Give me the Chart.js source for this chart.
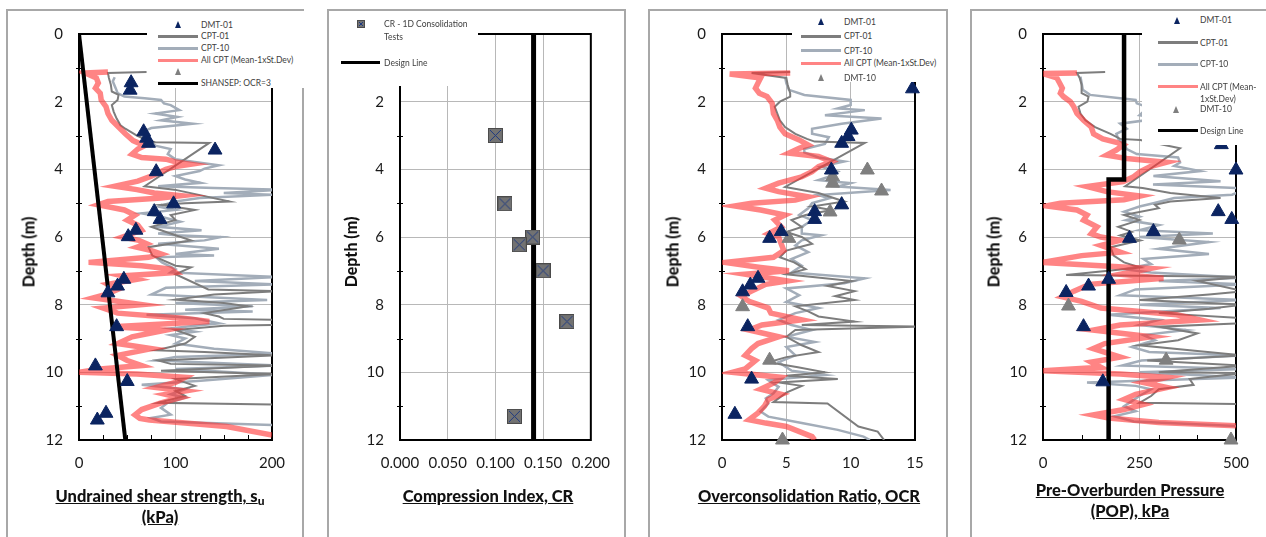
<!DOCTYPE html>
<html>
<head>
<meta charset="utf-8">
<script src="https://cdn.jsdelivr.net/npm/chart.js@4.4.1/dist/chart.umd.min.js"></script>
<style>
    html, body { margin: 0; padding: 0; background: #fff; }
    body { width: 1266px; height: 537px; position: relative; overflow: hidden; font-family: Lato, 'Open Sans', sans-serif; }
    .box { position: absolute; top: 9px; height: 560px; border: 2px solid #a8a8a8; box-sizing: border-box; background: #fff; }
    canvas.plot { position: absolute; top: 0; z-index: 1; }
    .legend { position: absolute; background: #fff; z-index: 3; }
    .lg-text { position: absolute; font-size: 8.5px; color: #404040; white-space: nowrap; transform: translateY(-50%); line-height: 1; z-index: 4; }
    .lg-line { position: absolute; z-index: 4; }
    .lg-tri { position: absolute; width: 0; height: 0; border-left: 3.5px solid transparent; border-right: 3.5px solid transparent; z-index: 4; }
    .ytitle { position: absolute; font-weight: 900; font-size: 16px; color: #111; transform: translate(-50%, -50%) rotate(-90deg); white-space: nowrap; z-index: 3; }
    .xtitle { position: absolute; font-weight: 900; font-size: 16.5px; color: #111; text-decoration: underline; text-align: center; transform: translateX(-50%); line-height: 21px; white-space: nowrap; z-index: 3; }
    .xtitle sub { font-size: 12px; vertical-align: -3px; line-height: 0; }
</style>
</head>
<body>
<script>
// ---------- Panel 1: undrained shear strength su (kPa) ----------
const suDmt01Depth = [1.44, 1.66, 2.89, 3.08, 3.23, 3.43, 4.07, 5.02, 5.25, 5.48, 5.8, 5.99, 7.25, 7.45, 7.65, 8.65, 9.81, 10.27, 11.21, 11.41];
const suDmt01 = [54, 53, 67, 70, 72, 141, 80, 98, 78, 84, 59, 51, 46.5, 40, 30, 39, 17, 50, 28, 19];

const suCpt01Depth = [1.12, 1.15, 1.3, 1.5, 1.7, 1.8, 1.95, 2.1, 2.3, 2.5, 2.7, 2.8, 3.0, 3.1, 3.2, 3.22, 4.5, 4.6, 4.95, 5.0, 5.05, 5.2, 5.35, 5.5, 5.7, 5.8, 5.95, 6.1, 6.3, 6.55, 6.85, 6.9, 7.1, 7.55, 7.6, 7.7, 7.85, 7.95, 8.05, 8.25, 8.35, 8.42, 8.45, 8.6, 8.62, 8.75, 8.95, 9.15, 9.35, 9.4, 9.5, 9.65, 9.75, 9.8, 9.95, 10.05, 10.2, 10.4, 10.55, 10.7, 10.9, 10.95];
const suCpt01 = [70, 30, 31, 33, 34, 41, 40, 34, 36, 39, 43, 48, 60, 67, 79, 135, 68, 99, 156, 110, 85, 120, 95, 100, 75, 85, 100, 116, 72, 76, 100, 116, 100, 134, 205, 140, 100, 150, 175, 130, 145, 150, 205, 205, 150, 100, 120, 110, 80, 130, 205, 82, 95, 205, 85, 205, 100, 120, 100, 110, 82, 205];

const suCpt10Depth = [1.28, 1.4, 1.6, 1.75, 1.85, 1.9, 1.95, 2.05, 2.1, 2.25, 2.35, 2.45, 2.55, 2.65, 2.78, 2.9, 3.0, 3.15, 3.3, 3.4, 3.55, 3.7, 3.78, 3.88, 3.98, 4.05, 4.2, 4.3, 4.4, 4.5, 4.55, 4.6, 4.7, 4.75, 4.85, 4.95, 5.1, 5.2, 5.3, 5.4, 5.55, 5.7, 5.8, 5.9, 5.95, 6.0, 6.1, 6.2, 6.35, 6.5, 6.55, 6.6, 6.75, 6.95, 7.05, 7.18, 7.3, 7.4, 7.5, 7.7, 7.86, 7.95, 8.05, 8.15, 8.2, 8.3, 8.4, 8.55, 8.7, 8.8, 8.9, 9.0, 9.15, 9.3, 9.45, 9.55, 9.65, 9.8, 9.9, 10.07, 10.25, 10.37, 10.5, 10.65, 10.75, 10.9, 11.05, 11.25, 11.35, 11.45, 11.56];
const suCpt10 = [37, 35, 38, 40, 47, 68, 85, 88, 95, 104, 79, 102, 85, 118, 75, 65, 68, 75, 79, 95, 92, 100, 120, 145, 130, 125, 100, 110, 126, 82, 140, 210, 150, 200, 125, 100, 82, 100, 65, 85, 105, 82, 127, 82, 100, 147, 130, 82, 145, 100, 140, 80, 86, 100, 95, 205, 120, 205, 90, 75, 195, 100, 180, 110, 180, 70, 120, 145, 95, 120, 95, 110, 100, 140, 205, 100, 80, 205, 100, 205, 126, 65, 110, 95, 110, 92, 85, 95, 75, 85, 205];

const suAllCptDepth = [1.12, 1.15, 1.2, 1.3, 1.45, 1.6, 1.75, 1.95, 2.15, 2.35, 2.55, 2.75, 2.95, 3.15, 3.3, 3.4, 3.55, 3.65, 3.7, 3.78, 3.85, 3.92, 4.0, 4.2, 4.35, 4.5, 4.6, 4.7, 4.78, 4.85, 4.95, 5.05, 5.2, 5.35, 5.5, 5.65, 5.8, 6.0, 6.1, 6.2, 6.3, 6.4, 6.5, 6.6, 6.75, 6.85, 6.95, 7.05, 7.15, 7.25, 7.4, 7.55, 7.7, 7.8, 7.9, 8.0, 8.1, 8.25, 8.4, 8.5, 8.65, 8.75, 8.95, 9.15, 9.3, 9.5, 9.65, 9.8, 9.9, 10.0, 10.05, 10.15, 10.3, 10.45, 10.55, 10.65, 10.75, 10.9, 11.1, 11.26, 11.36, 11.41, 11.6, 11.85];
const suAllCpt = [30, 6, 10, 18, 20, 17, 22, 23, 28, 30, 34, 41, 48, 56, 68, 61, 55, 65, 90, 100, 116, 100, 90, 75, 61, 37, 60, 78, 106, 85, 30, 20, 47, 58, 50, 61, 65, 45, 62, 70, 60, 75, 85, 72, 10, 65, 95, 100, 45, 60, 30, 40, 28, 15, 40, 65, 25, 40, 108, 135, 35, 90, 55, 40, 75, 40, 50, 65, 22, 0, 60, 110, 100, 80, 110, 90, 105, 85, 65, 58, 63, 73, 153, 200];

const suShansepDepth = [0, 12];
const suShansep = [0, 48];

// ---------- Panel 2: compression index CR ----------
const crTestDepth = [3.0, 5.02, 6.0, 6.23, 7.0, 8.5, 11.3];
const crTest = [0.100, 0.110, 0.139, 0.125, 0.150, 0.175, 0.120];
const crDesignDepth = [0, 12];
const crDesign = [0.14, 0.14];

// ---------- Panel 3: overconsolidation ratio OCR ----------
const ocrDmt01Depth = [1.62, 2.84, 3.03, 3.23, 4.02, 5.05, 5.25, 5.48, 5.84, 6.04, 7.22, 7.42, 7.62, 8.65, 10.2, 11.24];
const ocrDmt01 = [14.8, 10.05, 9.8, 9.3, 8.5, 9.3, 7.2, 7.2, 4.6, 3.7, 2.8, 2.2, 1.6, 2.0, 2.3, 1.0];
const ocrDmt10Depth = [4.02, 4.22, 4.41, 4.64, 5.04, 5.26, 6.04, 8.06, 9.64, 12.0];
const ocrDmt10 = [11.3, 8.6, 8.6, 12.4, 9.3, 8.4, 5.2, 1.6, 3.7, 4.7];

const ocrCpt01Depth = [1.12, 1.15, 1.3, 1.5, 1.75, 1.85, 2.0, 2.15, 2.35, 2.55, 2.75, 2.95, 3.1, 3.18, 3.22, 4.52, 4.7, 4.95, 5.1, 5.2, 5.35, 5.5, 5.7, 5.85, 6.0, 6.2, 6.4, 6.6, 6.75, 6.95, 7.1, 7.3, 7.45, 7.6, 7.75, 7.86, 8.05, 8.2, 8.35, 8.5, 8.6, 8.65, 8.75, 8.95, 9.2, 9.4, 9.55, 9.7, 9.85, 10.0, 10.1, 10.2, 10.3, 10.4, 10.6, 10.88, 10.92, 11.6, 11.75, 12.0];
const ocrCpt01 = [5.3, 2.3, 5.0, 5.1, 5.3, 5.3, 4.5, 4.1, 4.3, 4.5, 4.9, 5.7, 6.6, 7.2, 11.1, 4.9, 7.5, 9.5, 7.0, 8.5, 6.5, 5.4, 6.2, 5.0, 6.2, 7.0, 5.0, 4.5, 5.6, 6.5, 5.0, 10.1, 8.2, 10.3, 8.8, 10.3, 5.7, 6.7, 7.5, 10.3, 6.2, 15.2, 5.7, 5.0, 6.2, 7.5, 5.0, 3.6, 5.9, 8.0, 5.0, 9.0, 4.4, 6.2, 5.0, 4.0, 8.2, 10.6, 12.1, 12.6];

const ocrCpt10Depth = [1.26, 1.45, 1.65, 1.8, 1.95, 2.1, 2.2, 2.25, 2.4, 2.5, 2.65, 2.8, 2.95, 3.05, 3.25, 3.4, 3.5, 3.65, 3.77, 3.92, 4.07, 4.22, 4.32, 4.41, 4.51, 4.61, 4.76, 4.86, 5.0, 5.15, 5.35, 5.5, 5.7, 5.9, 5.95, 6.1, 6.25, 6.45, 6.65, 6.85, 7.05, 7.22, 7.37, 7.52, 7.72, 7.92, 8.1, 8.25, 8.45, 8.6, 8.75, 8.95, 9.1, 9.25, 9.5, 9.7, 9.95, 10.08, 10.23, 10.43, 10.62, 10.77, 10.92, 11.16, 11.31, 11.5, 11.7, 11.9, 12.0];
const ocrCpt10 = [4.9, 5.0, 5.2, 6.4, 10.0, 10.0, 9.0, 11.1, 8.0, 12.4, 9.3, 7.0, 7.0, 8.3, 8.0, 6.4, 6.4, 7.5, 9.5, 7.7, 9.0, 8.3, 7.5, 10.0, 9.0, 13.1, 7.5, 8.3, 7.0, 6.7, 6.0, 7.0, 6.2, 6.2, 7.7, 6.2, 5.7, 6.7, 5.4, 6.2, 5.4, 11.1, 9.5, 5.0, 6.0, 5.0, 7.5, 5.7, 4.4, 5.4, 7.0, 5.0, 7.2, 5.0, 5.7, 4.4, 5.4, 8.0, 3.6, 4.4, 4.0, 3.4, 3.6, 3.0, 3.6, 6.2, 9.0, 11.0, 11.5];

const ocrAllCptDepth = [1.15, 1.18, 1.3, 1.45, 1.6, 1.75, 1.85, 2.05, 2.35, 2.55, 2.75, 2.95, 3.13, 3.28, 3.38, 3.52, 3.62, 3.77, 3.92, 4.07, 4.22, 4.41, 4.56, 4.66, 4.81, 4.91, 5.0, 5.08, 5.2, 5.35, 5.5, 5.7, 5.9, 6.0, 6.2, 6.4, 6.6, 6.75, 6.9, 7.0, 7.1, 7.3, 7.4, 7.6, 7.75, 7.9, 8.1, 8.25, 8.45, 8.6, 8.75, 8.95, 9.15, 9.3, 9.5, 9.65, 9.9, 10.0, 10.15, 10.3, 10.5, 10.65, 10.8, 11.0, 11.2, 11.4, 11.5, 11.6, 11.9, 12.0];
const ocrAllCpt = [5.3, 0.6, 3.0, 2.8, 2.6, 2.9, 3.5, 3.9, 4.0, 4.3, 4.5, 4.9, 6.0, 6.7, 6.0, 5.2, 7.5, 8.5, 7.5, 7.0, 6.2, 4.4, 3.4, 4.4, 6.7, 5.7, 2.3, 1.0, 3.0, 4.9, 4.1, 4.6, 3.6, 4.4, 4.6, 4.8, 4.0, 0.2, 3.0, 5.2, 1.8, 5.1, 3.4, 2.3, 1.5, 2.1, 3.6, 3.8, 6.2, 3.1, 2.1, 4.4, 2.8, 2.3, 1.8, 2.6, 1.8, 0.8, 4.6, 4.1, 3.0, 4.6, 3.6, 3.3, 2.8, 2.1, 3.4, 5.0, 7.0, 7.2];

// ---------- Panel 4: pre-overburden pressure POP (kPa) ----------
const popDmt01Depth = [3.27, 4.02, 5.25, 5.48, 5.84, 6.04, 7.25, 7.45, 7.64, 8.65, 10.28];
const popDmt01 = [462, 500, 454, 489, 286, 224, 170, 118, 60, 105, 155];
const popDmt10Depth = [6.09, 8.04, 9.64, 12.0];
const popDmt10 = [353, 66, 319, 487];

const popCpt01Depth = [1.12, 1.15, 1.3, 1.5, 1.75, 1.85, 2.0, 2.15, 2.35, 2.55, 2.75, 2.95, 3.1, 3.13, 3.38, 4.5, 4.55, 4.7, 4.85, 4.95, 5.05, 5.15, 5.35, 5.5, 5.7, 5.85, 5.95, 6.1, 6.3, 6.55, 6.75, 6.9, 7.12, 7.18, 7.3, 7.6, 7.7, 7.86, 8.0, 8.12, 8.25, 8.4, 8.55, 8.65, 8.85, 9.05, 9.2, 9.35, 9.5, 9.65, 9.8, 10.0, 10.02, 10.2, 10.37, 10.5, 10.7, 10.9, 10.94];
const popCpt01 = [161, 88, 95, 100, 100, 118, 115, 92, 97, 110, 135, 175, 200, 252, 355, 213, 258, 330, 460, 330, 290, 300, 210, 250, 195, 230, 200, 252, 175, 183, 210, 252, 60, 520, 400, 520, 430, 250, 520, 430, 300, 520, 520, 300, 400, 350, 250, 380, 520, 270, 520, 300, 520, 380, 390, 300, 280, 250, 520];

const popCpt10Depth = [1.26, 1.45, 1.65, 1.8, 1.95, 2.05, 2.2, 2.3, 2.4, 2.5, 2.65, 2.8, 2.95, 3.1, 3.25, 3.4, 3.55, 3.65, 3.8, 3.9, 4.05, 4.2, 4.35, 4.45, 4.55, 4.6, 4.75, 4.85, 5.0, 5.1, 5.25, 5.4, 5.5, 5.65, 5.8, 5.9, 6.0, 6.15, 6.35, 6.5, 6.65, 6.8, 6.95, 7.05, 7.2, 7.3, 7.4, 7.55, 7.72, 7.86, 8.0, 8.1, 8.3, 8.45, 8.6, 8.75, 8.9, 9.05, 9.25, 9.4, 9.5, 9.65, 9.8, 9.9, 10.0, 10.15, 10.3, 10.4, 10.5, 10.7, 10.85, 11.0, 11.15, 11.3, 11.45, 11.6];
const popCpt10 = [97, 100, 103, 122, 240, 243, 280, 260, 250, 300, 200, 217, 190, 195, 210, 217, 243, 350, 355, 340, 407, 286, 460, 285, 500, 520, 490, 340, 286, 250, 210, 250, 216, 300, 250, 440, 250, 430, 300, 430, 260, 280, 210, 280, 520, 300, 520, 240, 200, 520, 250, 460, 170, 300, 250, 370, 260, 290, 230, 275, 520, 255, 205, 520, 250, 520, 114, 240, 280, 250, 230, 210, 240, 185, 235, 520];

const popAllCptDepth = [1.15, 1.17, 1.3, 1.45, 1.6, 1.75, 1.85, 2.0, 2.15, 2.35, 2.55, 2.75, 2.95, 3.1, 3.2, 3.28, 3.43, 3.58, 3.68, 3.79, 3.92, 4.07, 4.22, 4.36, 4.51, 4.66, 4.79, 4.9, 5.0, 5.08, 5.2, 5.35, 5.5, 5.7, 5.9, 6.0, 6.1, 6.25, 6.45, 6.55, 6.75, 6.85, 6.93, 7.1, 7.22, 7.4, 7.6, 7.77, 7.9, 8.1, 8.3, 8.45, 8.6, 8.75, 8.95, 9.15, 9.3, 9.55, 9.7, 9.85, 9.95, 10.05, 10.15, 10.3, 10.45, 10.65, 10.8, 10.95, 11.1, 11.26, 11.35, 11.48, 11.58];
const popAllCpt = [88, 0, 36, 43, 50, 45, 53, 71, 80, 88, 105, 125, 131, 155, 190, 208, 190, 165, 217, 320, 278, 252, 235, 208, 114, 165, 252, 210, 45, 10, 88, 114, 105, 140, 125, 150, 200, 150, 200, 100, 0, 150, 277, 200, 312, 120, 80, 50, 100, 150, 346, 407, 200, 130, 280, 160, 130, 200, 125, 150, 0, 200, 321, 260, 321, 240, 210, 260, 210, 130, 170, 300, 500];

const popDesignDepth = [0, 4.3, 4.3, 12];
const popDesign = [210, 210, 170, 170];

// ---------- styling ----------
Chart.defaults.font.family = "Lato, 'Open Sans', sans-serif";
Chart.defaults.color = '#1a1a1a';

const NAVY = '#0b2461';
const GRAY_MARK = '#7f7f7f';
const CPT01_COLOR = '#7d7d7d';
const CPT10_COLOR = '#a3adb9';
const ALLCPT_COLOR = 'rgba(255, 50, 50, 0.6)';
const GRID_COLOR = '#b8b8b8';

function pts(xs, ys) {
    return xs.map((v, i) => ({ x: v, y: ys[i] }));
}

function trace(label, xs, ys, color, width, order) {
    return {
        label: label,
        data: pts(xs, ys),
        showLine: true,
        borderColor: color,
        backgroundColor: color,
        borderWidth: width,
        pointRadius: 0,
        pointHoverRadius: 0,
        tension: 0,
        fill: false,
        order: order
    };
}

function markers(label, xs, ys, color, style, radius, order) {
    return {
        label: label,
        data: pts(xs, ys),
        showLine: false,
        pointStyle: style,
        pointRadius: radius,
        pointBackgroundColor: color,
        pointBorderColor: color,
        pointBorderWidth: 1,
        clip: false,
        order: order
    };
}

// grey square with a navy cross, used for the consolidation tests
function crossBox(size) {
    const c = document.createElement('canvas');
    c.width = size;
    c.height = size;
    const g = c.getContext('2d');
    g.fillStyle = '#727272';
    g.fillRect(0, 0, size, size);
    g.strokeStyle = '#4a4a4a';
    g.lineWidth = 1;
    g.strokeRect(0.5, 0.5, size - 1, size - 1);
    g.strokeStyle = '#1f3a80';
    g.beginPath();
    g.moveTo(2, 2); g.lineTo(size - 2, size - 2);
    g.moveTo(size - 2, 2); g.lineTo(2, size - 2);
    g.stroke();
    return c;
}

// plot frame plus the little minor tick marks
const framePlugin = {
    id: 'frame',
    beforeDatasetsDraw(chart, args, opts) {
        const { ctx, chartArea: a, scales } = chart;
        ctx.save();
        ctx.strokeStyle = '#000';
        ctx.lineWidth = 2;
        ctx.strokeRect(a.left, a.top, a.right - a.left, a.bottom - a.top);
        ctx.lineWidth = 1;
        [1, 3, 5, 7, 9, 11].forEach(d => {
            const y = Math.round(scales.y.getPixelForValue(d)) + 0.5;
            ctx.beginPath();
            ctx.moveTo(a.left - 3, y);
            ctx.lineTo(a.left + 3, y);
            ctx.stroke();
        });
        (opts.minorX || []).forEach(v => {
            const x = Math.round(scales.x.getPixelForValue(v)) + 0.5;
            ctx.beginPath();
            ctx.moveTo(x, a.bottom);
            ctx.lineTo(x, a.bottom - 5);
            ctx.stroke();
        });
        ctx.restore();
    }
};

function makePanel(p) {
    const box = document.createElement('div');
    box.className = 'box';
    box.style.left = p.boxL + 'px';
    box.style.width = (p.boxR - p.boxL) + 'px';
    document.body.appendChild(box);

    const canvasL = p.boxL + 2;
    const canvasR = Math.min(p.boxR - 2, 1266);
    const canvas = document.createElement('canvas');
    canvas.className = 'plot';
    canvas.width = canvasR - canvasL;
    canvas.height = 537;
    canvas.style.left = canvasL + 'px';
    canvas.style.width = (canvasR - canvasL) + 'px';
    canvas.style.height = '537px';
    document.body.appendChild(canvas);

    const eq = (a, b) => Math.abs(a - b) < 1e-9;
    const gridFor = (min, max) => ctx =>
        (ctx.tick && (eq(ctx.tick.value, min) || eq(ctx.tick.value, max))) ? 'rgba(0,0,0,0)' : GRID_COLOR;

    new Chart(canvas.getContext('2d'), {
        type: 'scatter',
        data: { datasets: p.datasets },
        options: {
            responsive: false,
            animation: false,
            events: [],
            layout: { padding: { left: 0, right: canvasR - p.plotR, top: 34, bottom: 57 } },
            plugins: {
                legend: { display: false },
                tooltip: { enabled: false },
                frame: { minorX: p.minorX }
            },
            scales: {
                x: {
                    type: 'linear',
                    min: p.xMin,
                    max: p.xMax,
                    afterFit: s => { s.height = 40; },
                    ticks: {
                        stepSize: p.xStep,
                        autoSkip: false,
                        maxRotation: 0,
                        padding: 14,
                        font: { size: 15 },
                        callback: p.xFormat || (v => v)
                    },
                    grid: { color: gridFor(p.xMin, p.xMax), drawTicks: false, lineWidth: 1 },
                    border: { display: false }
                },
                y: {
                    type: 'linear',
                    reverse: true,
                    min: 0,
                    max: 12,
                    afterFit: s => { s.width = p.plotL - canvasL; },
                    ticks: { stepSize: 2, padding: 16, font: { size: 15 } },
                    grid: { color: gridFor(0, 12), drawTicks: false, lineWidth: 1 },
                    border: { display: false }
                }
            }
        },
        plugins: [framePlugin]
    });

    const yt = document.createElement('div');
    yt.className = 'ytitle';
    yt.textContent = 'Depth (m)';
    yt.style.left = p.yTitleX + 'px';
    yt.style.top = '252px';
    document.body.appendChild(yt);

    const xt = document.createElement('div');
    xt.className = 'xtitle';
    xt.innerHTML = p.xTitle;
    xt.style.left = p.xTitleX + 'px';
    xt.style.top = p.xTitleTop + 'px';
    document.body.appendChild(xt);

    // legend sits over the plot with a white background, as in the source
    const lg = document.createElement('div');
    lg.className = 'legend';
    lg.style.left = p.legend.left + 'px';
    lg.style.top = '11px';
    lg.style.width = (p.legend.right - p.legend.left) + 'px';
    lg.style.height = (p.legend.bottom - 11) + 'px';
    document.body.appendChild(lg);

    p.legend.items.forEach(it => {
        if (it.kind === 'line') {
            const l = document.createElement('div');
            l.className = 'lg-line';
            l.style.left = it.x0 + 'px';
            l.style.width = (it.x1 - it.x0) + 'px';
            l.style.top = (it.y - it.w / 2) + 'px';
            l.style.height = it.w + 'px';
            l.style.background = it.color;
            document.body.appendChild(l);
        } else if (it.kind === 'tri') {
            const t = document.createElement('div');
            t.className = 'lg-tri';
            t.style.left = (it.x - 3.5) + 'px';
            t.style.top = (it.y - 3.5) + 'px';
            t.style.borderBottom = '7px solid ' + it.color;
            document.body.appendChild(t);
        } else if (it.kind === 'box') {
            const b = crossBox(8);
            b.style.position = 'absolute';
            b.style.left = (it.x - 4) + 'px';
            b.style.top = (it.y - 4) + 'px';
            b.style.zIndex = 4;
            document.body.appendChild(b);
        }
        (it.text || []).forEach((line, i) => {
            const tx = document.createElement('div');
            tx.className = 'lg-text';
            tx.textContent = line;
            tx.style.left = it.tx + 'px';
            tx.style.top = (it.y + i * 12.5) + 'px';
            document.body.appendChild(tx);
        });
    });
}

// Panel 1 - su
makePanel({
    boxL: 6, boxR: 304, plotL: 79, plotR: 272,
    xMin: 0, xMax: 200, xStep: 100, minorX: [25, 50, 75, 125, 150, 175],
    yTitleX: 28, xTitleX: 160, xTitleTop: 486,
    xTitle: 'Undrained shear strength, s<sub>u</sub><br>(kPa)',
    datasets: [
        markers('DMT-01', suDmt01, suDmt01Depth, NAVY, 'triangle', 8, 1),
        trace('SHANSEP: OCR=3', suShansep, suShansepDepth, '#000', 4, 2),
        trace('All CPT (Mean-1xSt.Dev)', suAllCpt, suAllCptDepth, ALLCPT_COLOR, 5.5, 3),
        trace('CPT-01', suCpt01, suCpt01Depth, CPT01_COLOR, 2, 4),
        trace('CPT-10', suCpt10, suCpt10Depth, CPT10_COLOR, 2.5, 5)
    ],
    legend: {
        left: 147, right: 304, bottom: 88,
        items: [
            { kind: 'tri', x: 178, y: 24.5, color: NAVY, tx: 201, text: ['DMT-01'] },
            { kind: 'line', x0: 158, x1: 198, y: 36, w: 3, color: CPT01_COLOR, tx: 201, text: ['CPT-01'] },
            { kind: 'line', x0: 158, x1: 198, y: 48, w: 3, color: CPT10_COLOR, tx: 201, text: ['CPT-10'] },
            { kind: 'line', x0: 158, x1: 198, y: 60, w: 3, color: ALLCPT_COLOR, tx: 201, text: ['All CPT (Mean-1xSt.Dev)'] },
            { kind: 'tri', x: 178, y: 71.7, color: GRAY_MARK },
            { kind: 'line', x0: 158, x1: 198, y: 83.3, w: 3.5, color: '#000', tx: 201, text: ['SHANSEP: OCR=3'] }
        ]
    }
});

// Panel 2 - CR
makePanel({
    boxL: 327, boxR: 626, plotL: 400, plotR: 593,
    xMin: 0, xMax: 0.2, xStep: 0.05, minorX: [],
    xFormat: v => Number(v).toFixed(3),
    yTitleX: 350, xTitleX: 488, xTitleTop: 486,
    xTitle: 'Compression Index, CR',
    datasets: [
        markers('CR - 1D Consolidation Tests', crTest, crTestDepth, GRAY_MARK, crossBox(15), 7, 1),
        trace('Design Line', crDesign, crDesignDepth, '#000', 5, 2)
    ],
    legend: {
        left: 329, right: 478, bottom: 86,
        items: [
            { kind: 'box', x: 360.5, y: 24, tx: 384, text: ['CR - 1D Consolidation', 'Tests'] },
            { kind: 'line', x0: 341, x1: 380, y: 62.7, w: 3.5, color: '#000', tx: 384, text: ['Design Line'] }
        ]
    }
});

// Panel 3 - OCR
makePanel({
    boxL: 648, boxR: 948, plotL: 722, plotR: 915,
    xMin: 0, xMax: 15, xStep: 5, minorX: [],
    yTitleX: 672, xTitleX: 809, xTitleTop: 486,
    xTitle: 'Overconsolidation Ratio, OCR',
    datasets: [
        markers('DMT-01', ocrDmt01, ocrDmt01Depth, NAVY, 'triangle', 8, 1),
        markers('DMT-10', ocrDmt10, ocrDmt10Depth, GRAY_MARK, 'triangle', 8, 2),
        trace('All CPT (Mean-1xSt.Dev)', ocrAllCpt, ocrAllCptDepth, ALLCPT_COLOR, 5.5, 3),
        trace('CPT-01', ocrCpt01, ocrCpt01Depth, CPT01_COLOR, 2, 4),
        trace('CPT-10', ocrCpt10, ocrCpt10Depth, CPT10_COLOR, 2.5, 5)
    ],
    legend: {
        left: 792, right: 946, bottom: 82,
        items: [
            { kind: 'tri', x: 821.5, y: 21.6, color: NAVY, tx: 844, text: ['DMT-01'] },
            { kind: 'line', x0: 801, x1: 841, y: 36, w: 3, color: CPT01_COLOR, tx: 844, text: ['CPT-01'] },
            { kind: 'line', x0: 801, x1: 841, y: 50.7, w: 3, color: CPT10_COLOR, tx: 844, text: ['CPT-10'] },
            { kind: 'line', x0: 801, x1: 841, y: 63.3, w: 3, color: ALLCPT_COLOR, tx: 844, text: ['All CPT (Mean-1xSt.Dev)'] },
            { kind: 'tri', x: 821, y: 77.7, color: GRAY_MARK, tx: 844, text: ['DMT-10'] }
        ]
    }
});

// Panel 4 - POP
makePanel({
    boxL: 970, boxR: 1280, plotL: 1043, plotR: 1236,
    xMin: 0, xMax: 500, xStep: 250, minorX: [100, 200, 300, 400],
    yTitleX: 993, xTitleX: 1130, xTitleTop: 480,
    xTitle: 'Pre-Overburden Pressure<br>(POP), kPa',
    datasets: [
        markers('DMT-01', popDmt01, popDmt01Depth, NAVY, 'triangle', 8, 1),
        markers('DMT-10', popDmt10, popDmt10Depth, GRAY_MARK, 'triangle', 8, 2),
        trace('Design Line', popDesign, popDesignDepth, '#000', 4.5, 3),
        trace('All CPT (Mean-1xSt.Dev)', popAllCpt, popAllCptDepth, ALLCPT_COLOR, 5.5, 4),
        trace('CPT-01', popCpt01, popCpt01Depth, CPT01_COLOR, 2, 5),
        trace('CPT-10', popCpt10, popCpt10Depth, CPT10_COLOR, 2.5, 6)
    ],
    legend: {
        left: 1142, right: 1266, bottom: 145,
        items: [
            { kind: 'tri', x: 1177.7, y: 20, color: NAVY, tx: 1200, text: ['DMT-01'] },
            { kind: 'line', x0: 1158, x1: 1198, y: 42.7, w: 3, color: CPT01_COLOR, tx: 1200, text: ['CPT-01'] },
            { kind: 'line', x0: 1158, x1: 1198, y: 64.3, w: 3, color: CPT10_COLOR, tx: 1200, text: ['CPT-10'] },
            { kind: 'line', x0: 1158, x1: 1198, y: 86.7, w: 3, color: ALLCPT_COLOR, tx: 1200, text: ['All CPT (Mean-', '1xSt.Dev)'] },
            { kind: 'tri', x: 1176.7, y: 109.3, color: GRAY_MARK, tx: 1200, text: ['DMT-10'] },
            { kind: 'line', x0: 1158, x1: 1198, y: 130.7, w: 3.5, color: '#000', tx: 1200, text: ['Design Line'] }
        ]
    }
});
</script>
</body>
</html>
